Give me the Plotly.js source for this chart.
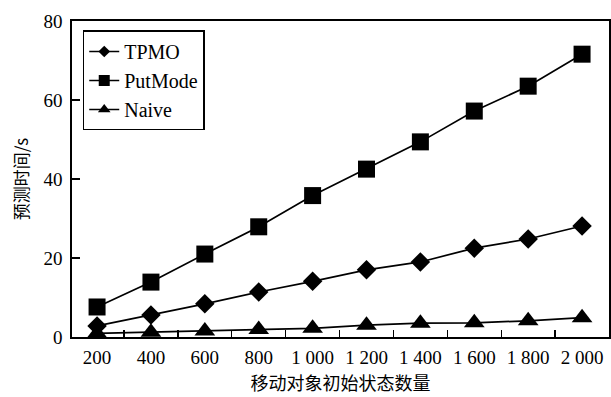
<!DOCTYPE html>
<html>
<head>
<meta charset="utf-8">
<script src="https://cdn.plot.ly/plotly-3.0.1.min.js"></script>
<style>html,body{margin:0;padding:0;background:#fff;}#chart{width:611px;height:397px;}</style>
</head>
<body>
<div id="chart"></div>
<script>
var counts = [200, 400, 600, 800, 1000, 1200, 1400, 1600, 1800, 2000];
var countLabels = ["200", "400", "600", "800", "1 000", "1 200", "1 400", "1 600", "1 800", "2 000"];
var minorTicks = [300, 500, 700, 900, 1100, 1300, 1500, 1700, 1900];
var tpmo = [2.8, 5.6, 8.4, 11.4, 14.1, 17.0, 19.0, 22.5, 24.8, 28.1];
var putMode = [7.6, 13.9, 21.0, 27.9, 35.8, 42.5, 49.4, 57.2, 63.5, 71.6];
var naive = [0.9, 1.2, 1.5, 1.9, 2.2, 3.0, 3.5, 3.6, 4.1, 4.9];
var yTicks = [0, 20, 40, 60, 80];
var seriesNames = ["TPMO", "PutMode", "Naive"];
var symbols = ["diamond", "square", "triangle-up"];

var serif = "Liberation Serif, Times New Roman, serif";
var cjk = "Noto Sans CJK SC, sans-serif";

var plotSizes = [15, 17, 18];
var legendSizes = [9, 11, 11];
var seriesValues = [tpmo, putMode, naive];

var data = [];
seriesValues.forEach(function (vals, i) {
  data.push({
    x: counts, y: vals, name: seriesNames[i], type: "scatter", mode: "lines+markers",
    line: {color: "#000", width: 1.7},
    marker: {symbol: symbols[i], size: plotSizes[i], color: "#000"},
    cliponaxis: false, showlegend: false, hoverinfo: "skip"
  });
});
// legend-only entries (no data drawn) with smaller markers as in the reference
seriesNames.forEach(function (nm, i) {
  data.push({
    x: [null], y: [null], name: nm, type: "scatter", mode: "lines+markers",
    line: {color: "#000", width: 1.7},
    marker: {symbol: symbols[i], size: legendSizes[i], color: "#000"},
    showlegend: true
  });
});

var layout = {
  width: 611, height: 397,
  margin: {l: 72, r: 2, t: 21, b: 60},
  paper_bgcolor: "#fff", plot_bgcolor: "#fff",
  font: {family: serif, size: 19, color: "#000"},
  showlegend: true,
  legend: {
    x: 0.02, y: 0.97, xanchor: "left", yanchor: "top",
    bordercolor: "#000", borderwidth: 1.5, bgcolor: "#fff",
    font: {family: serif, size: 20, color: "#000"},
    entrywidth: 148, entrywidthmode: "pixels",
    tracegroupgap: 0
  },
  xaxis: {
    range: [107, 2100],
    tickmode: "array", tickvals: counts, ticktext: countLabels,
    ticks: "", showgrid: false, zeroline: false,
    showline: true, linecolor: "#000", linewidth: 1.6, mirror: true,
    tickfont: {family: serif, size: 19, color: "#000"},
    ticklabelstandoff: 3,
    minor: {tickmode: "array", tickvals: minorTicks, ticks: "inside", ticklen: 7, tickwidth: 1.4, tickcolor: "#000", showgrid: false},
    title: {text: "移动对象初始状态数量", font: {family: cjk, size: 18, color: "#000"}, standoff: 10}
  },
  yaxis: {
    range: [0, 80],
    tickmode: "array", tickvals: yTicks,
    ticks: "inside", ticklen: 8, tickwidth: 1.4, tickcolor: "#000",
    showgrid: false, zeroline: false,
    showline: true, linecolor: "#000", linewidth: 1.6, mirror: true,
    tickfont: {family: serif, size: 19, color: "#000"},
    ticklabelstandoff: 4,
    title: {text: "预测时间/s", font: {family: cjk, size: 17, color: "#000"}, standoff: 10}
  }
};

Plotly.newPlot("chart", data, layout, {displayModeBar: false, staticPlot: true});
</script>
</body>
</html>
